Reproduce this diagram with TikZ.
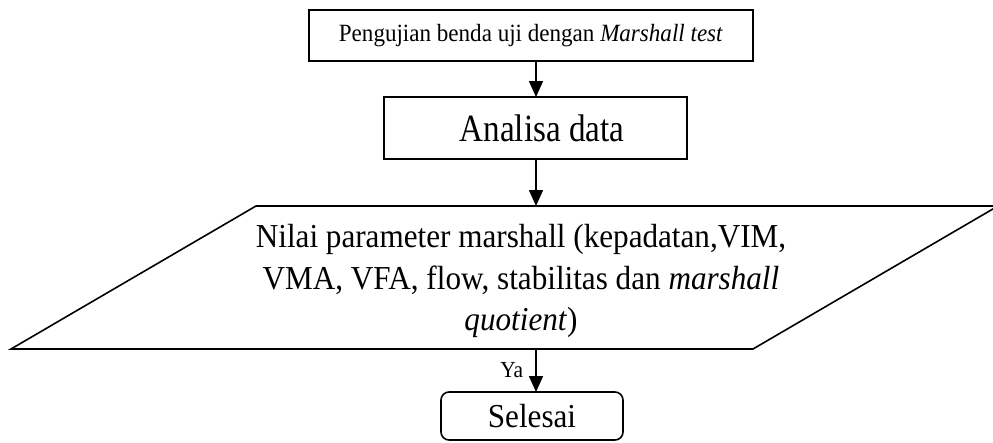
\documentclass[tikz,border=0pt]{standalone}
\usepackage{fontspec}
\setmainfont{Liberation Serif}[FakeStretch=0.93]
\newfontfamily\narrowfont{Liberation Serif}[FakeStretch=0.86]
\usetikzlibrary{arrows.meta}
\begin{document}
\begin{tikzpicture}[x=1pt,y=-1pt,
  line width=1.6pt,
  arr/.style={-{Triangle[length=16pt,width=14pt]}}]
\useasboundingbox (0,0) rectangle (993,442);
\clip (0,0) rectangle (993,442);
% top box
\draw (309,10) rectangle (753,61);
\node[font=\fontsize{24.8}{28}\selectfont] (top) at (531,35.5) {Pengujian benda uji dengan \textit{Marshall test}};
\coordinate (topb) at (536,61);
% analisa
\draw (384,97) rectangle (687,159);
\node[font=\narrowfont\fontsize{38.5}{40}\selectfont] (ana) at (542,128) {Analisa data};
\coordinate (anat) at (536,97);
\coordinate (anab) at (536,159);
% parallelogram
\coordinate (pTL) at (256,206);
\coordinate (pTR) at (998,206);
\coordinate (pBR) at (753,349);
\coordinate (pBL) at (11,349);
\draw (pTL) -- (pTR) -- (pBR) -- (pBL) -- cycle;
\coordinate (part) at (536,206);
\coordinate (parb) at (536,349);
\node[font=\fontsize{33.5}{41.5}\selectfont,align=center] (par) at (521,281)
  {Nilai parameter marshall (kepadatan,VIM,\\
   VMA, VFA, flow, stabilitas dan \textit{marshall}\\
   \textit{quotient})};
% selesai
\node[draw,rounded corners=8pt,minimum width=182pt,minimum height=48pt,inner sep=0pt,
  font=\fontsize{33.5}{36}\selectfont] (sel) at (532,416) {Selesai};
\coordinate (selt) at (536,392);
% arrows
\draw[arr] (topb) -- (anat);
\draw[arr] (anab) -- (part);
\draw[arr] (parb) -- (selt);
\node[anchor=base east,font=\fontsize{23}{26}\selectfont,inner sep=0pt] (ya) at (524,377) {Ya};
\end{tikzpicture}
\end{document}
